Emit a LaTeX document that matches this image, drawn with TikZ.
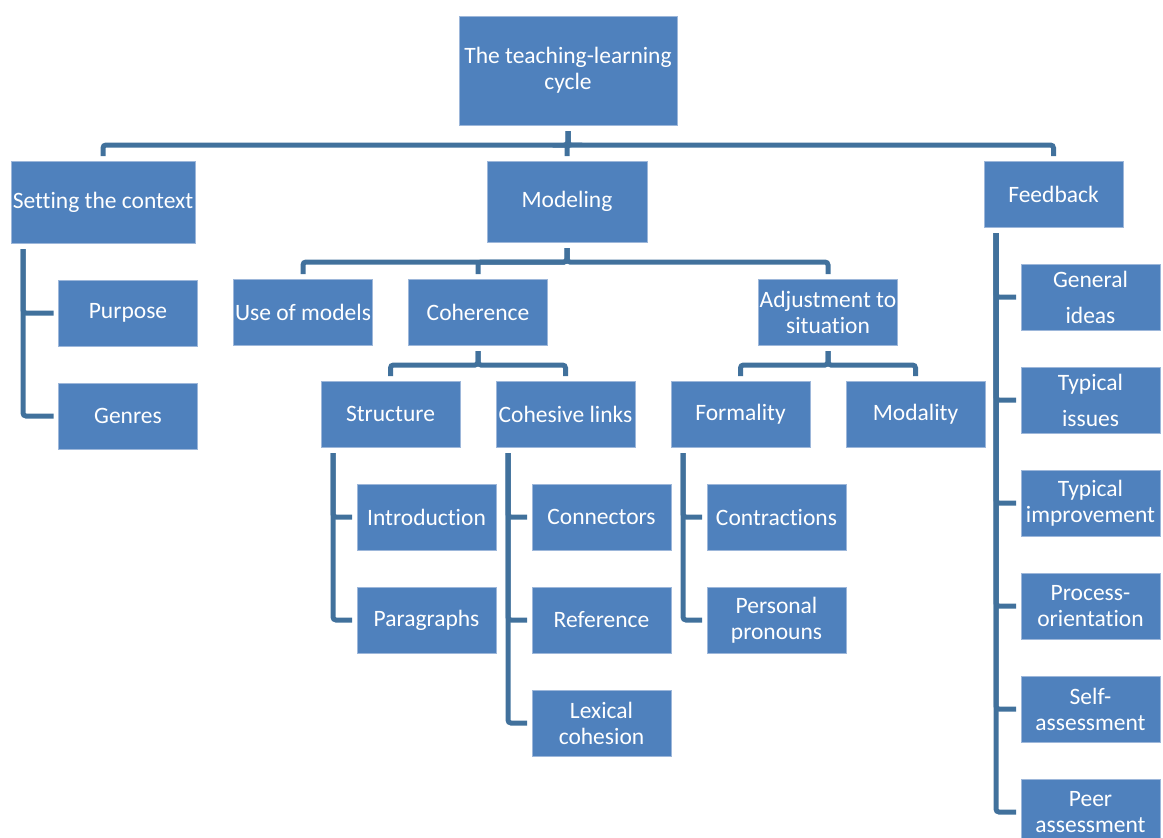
\documentclass[tikz,border=0pt]{standalone}
\usepackage{fontspec}
\setmainfont{Carlito}[Ligatures=NoCommon]
\usetikzlibrary{positioning}
\definecolor{boxblue}{HTML}{4F81BD}
\definecolor{boxedge}{HTML}{9DB7DA}
\definecolor{linkblue}{HTML}{41719C}

\begin{document}
\begin{tikzpicture}
    [x=1pt,y=1pt,
    box/.style={rectangle,draw=boxedge,fill=boxblue,line width=0.8pt,
    text=white,align=center,inner sep=0pt,outer sep=0pt,
    minimum width=139pt,minimum height=66pt,
    font=\fontsize{23.5}{26}\selectfont},
    link/.style={draw=linkblue,line width=5pt,rounded corners=3pt,
    shorten <=6pt,shorten >=5pt},
    node distance=37pt]
    \useasboundingbox (0,0) rectangle (1163,-838);
    \clip (0,0) rectangle (1163,-838);
    \node[box,minimum width=218pt,minimum height=109pt] (root) at (568,-70.5) {The teaching-learning\\cycle};
    \node[box,minimum width=184pt,minimum height=82pt] (setting) at (103,-202) {Setting the context};
    \node[box,minimum width=160pt,minimum height=81pt] (modeling) at (567,-201.5) {Modeling};
    \node[box] (feedback) at (1053.5,-194) {Feedback};
    % setting the context
    \node[box] (purpose) at (128,-313) {Purpose};
    \node[box] (genres) [below=of purpose] {Genres};
    % modeling
    \node[box] (use models) at (303,-312) {Use of models};
    \node[box] (coherence) at (478,-312) {Coherence};
    \node[box] (adjustment) at (828,-312) {Adjustment to\\situation};
    \node[box] (structure) at (390.5,-414) {Structure};
    \node[box] (cohesive links) at (565.5,-414) {Cohesive links};
    \node[box] (formality) at (740.5,-414) {Formality};
    \node[box] (modality) at (915.5,-414) {Modality};
    \node[box] (introduction) at (426.5,-517) {Introduction};
    \node[box] (paragraphs) [below=of introduction] {Paragraphs};
    \node[box] (connectors) at (601.5,-517) {Connectors};
    \node[box] (reference) [below=of connectors] {Reference};
    \node[box] (lexical) [below=of reference] {Lexical\\cohesion};
    \node[box] (contractions) at (776.5,-517) {Contractions};
    \node[box] (pronouns) [below=of contractions] {Personal\\pronouns};
    % feedback
    \node[box] (general) at (1090.5,-297) {General\\[10pt]ideas};
    \node[box] (issues) [below=of general] {Typical\\[10pt]issues};
    \node[box] (improvement) [below=of issues] {Typical\\improvement};
    \node[box] (process) [below=of improvement] {Process-\\orientation};
    \node[box] (self) [below=of process] {Self-\\assessment};
    \node[box] (peer) [below=of self] {Peer\\assessment};

    \draw[link] (root.south) -- ++(0,-20) -| (setting.north);
    \draw[link] (root.south) -- ++(0,-20) -| (modeling.north);
    \draw[link] (root.south) -- ++(0,-20) -| (feedback.north);
    \draw[link] (modeling.south) -- ++(0,-20) -| (use models.north);
    \draw[link] (modeling.south) -- ++(0,-20) -| (coherence.north);
    \draw[link] (modeling.south) -- ++(0,-20) -| (adjustment.north);
    \draw[link] (coherence.south) -- ++(0,-20) -| (structure.north);
    \draw[link] (coherence.south) -- ++(0,-20) -| (cohesive links.north);
    \draw[link] (adjustment.south) -- ++(0,-20) -| (formality.north);
    \draw[link] (adjustment.south) -- ++(0,-20) -| (modality.north);
    \foreach \child in {purpose,genres}
        \draw[link] ([xshift=12pt]setting.south west) |- (\child.west);
    \foreach \child in {introduction,paragraphs}
        \draw[link] ([xshift=12pt]structure.south west) |- (\child.west);
    \foreach \child in {connectors,reference,lexical}
        \draw[link] ([xshift=12pt]cohesive links.south west) |- (\child.west);
    \foreach \child in {contractions,pronouns}
        \draw[link] ([xshift=12pt]formality.south west) |- (\child.west);
    \foreach \child in {general,issues,improvement,process,self,peer}
        \draw[link] ([xshift=12pt]feedback.south west) |- (\child.west);
\end{tikzpicture}
\end{document}
